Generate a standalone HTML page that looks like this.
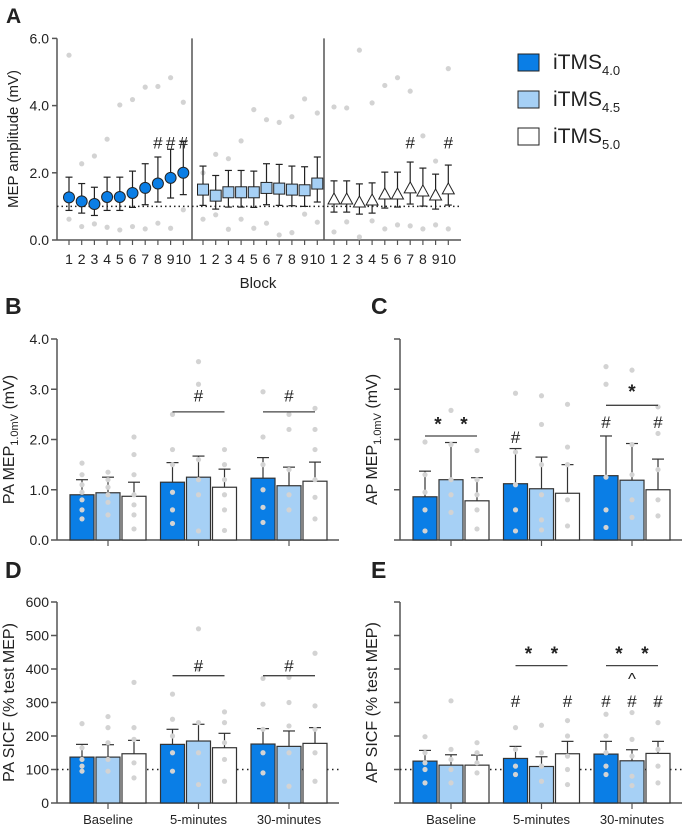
<!DOCTYPE html>
<html><head><meta charset="utf-8"><style>
body{margin:0;background:#fff;font-family:"Liberation Sans",Arial,sans-serif}
svg{display:block}
text{font-family:"Liberation Sans",Arial,sans-serif;fill:#222}
</style></head><body>
<svg id="fig" width="685" height="828" viewBox="0 0 685 828">
<text x="6" y="23" font-size="21" font-weight="bold">A</text>
<text x="5" y="314" font-size="23" font-weight="bold">B</text>
<text x="371" y="314" font-size="23" font-weight="bold">C</text>
<text x="5" y="578" font-size="23" font-weight="bold">D</text>
<text x="371" y="578" font-size="23" font-weight="bold">E</text>
<g>
<rect x="518" y="54" width="21" height="17" fill="#0a7ee6" stroke="#222"/>
<text x="553" y="69" font-size="21">iTMS<tspan font-size="13" dy="6">4.0</tspan></text>
<rect x="518" y="91" width="21" height="17" fill="#a6d0f5" stroke="#222"/>
<text x="553" y="106" font-size="21">iTMS<tspan font-size="13" dy="6">4.5</tspan></text>
<rect x="518" y="128" width="21" height="17" fill="#fff" stroke="#222"/>
<text x="553" y="143" font-size="21">iTMS<tspan font-size="13" dy="6">5.0</tspan></text>
</g>
</svg>
<script>
// ===== Panel A data =====
const blocks=["1","2","3","4","5","6","7","8","9","10"];
const aTicks=[0,2,4,6];
const aMean1=[1.27,1.15,1.07,1.28,1.28,1.40,1.55,1.68,1.85,2.0];
const aUp1=[1.87,1.68,1.57,1.87,1.87,2.05,2.27,2.47,2.7,2.93];
const aLo1=[0.88,0.8,0.73,0.88,0.88,0.97,1.05,1.13,1.25,1.35];
const aDotHi1=[5.5,2.27,2.5,3.0,4.02,4.18,4.55,4.57,4.83,4.1];
const aDotLo1=[0.62,0.4,0.48,0.38,0.3,0.4,0.33,0.5,0.35,0.9];
const aMean2=[1.5,1.32,1.42,1.42,1.42,1.55,1.53,1.5,1.48,1.68];
const aUp2=[2.2,1.92,2.07,2.07,2.05,2.27,2.25,2.2,2.18,2.47];
const aLo2=[1.03,0.92,0.98,0.98,0.97,1.05,1.03,1.02,1.0,1.13];
const aDotHi2=[2.0,2.55,2.42,2.95,3.88,3.58,3.5,3.67,4.2,3.78];
const aDotLo2=[0.62,0.75,0.32,0.62,0.35,0.5,0.15,0.22,0.77,0.53];
const aMean3=[1.22,1.22,1.13,1.19,1.37,1.37,1.55,1.46,1.34,1.52];
const aUp3=[1.76,1.76,1.67,1.7,2.02,2.02,2.32,2.14,1.96,2.23];
const aLo3=[0.83,0.83,0.77,0.8,0.95,0.98,1.07,1.01,0.92,1.04];
const aDotHi3=[3.96,3.93,5.65,4.08,4.6,4.83,4.43,3.1,2.35,5.1];
const aDotLo3=[0.24,0.54,0.09,0.57,0.33,0.45,0.42,0.33,0.45,0.33];
// ===== Panels B-E data =====
const cats=["Baseline","5-minutes","30-minutes"];
const bMean=[0.9,0.94,0.87,1.15,1.25,1.05,1.23,1.08,1.17];
const bErr=[1.2,1.25,1.15,1.54,1.67,1.41,1.64,1.45,1.55];
const cMean=[0.86,1.2,0.78,1.12,1.02,0.93,1.28,1.19,1.0];
const cErr=[1.37,1.94,1.24,1.82,1.65,1.5,2.07,1.92,1.61];
const dMean=[137,137,147,175,185,165,176,169,178];
const dErr=[175,174,187,220,235,208,222,215,225];
const eMean=[125,113,113,133,109,147,146,126,148];
const eErr=[157,144,143,169,138,184,184,159,184];
const bDots=[[1.53,1.3,1.1,0.95,0.8,0.6,0.42],[1.35,1.2,1.05,0.9,0.75,0.5],[2.05,1.7,1.3,0.9,0.7,0.5,0.22],[2.5,1.8,1.5,0.95,0.6,0.33],[3.55,3.1,1.6,1.2,0.9,0.18],[1.8,1.5,1.2,0.9,0.6,0.19],[2.95,2.05,1.5,1.0,0.65,0.35],[2.5,2.2,1.4,0.9,0.6],[2.62,2.2,1.8,1.2,0.85,0.42]];
const cDots=[[1.95,1.3,0.95,0.6,0.18],[2.58,1.9,1.2,0.9,0.55],[1.78,1.2,0.9,0.6,0.22],[2.92,1.75,1.1,0.6,0.18],[2.87,2.3,1.5,0.9,0.4,0.2],[2.7,1.85,1.5,0.8,0.28],[3.45,3.1,1.25,0.6,0.25],[3.38,1.9,1.3,0.8,0.45],[2.65,2.12,1.4,0.8,0.48]];
const dDots=[[237,165,130,110,95],[258,225,180,130,95],[360,225,190,120,75],[325,250,200,150,95],[520,400,240,150,55],[272,240,180,130,65],[372,295,220,150,90],[375,300,230,150,50],[447,290,220,150,65]];
const eDots=[[198,150,120,100,60],[305,160,130,100,60],[180,150,120,90],[225,160,110,85],[232,150,110,65],[246,200,140,100,55],[265,200,150,110,85],[270,190,140,80,52],[293,240,160,110,60]];

const NS="http://www.w3.org/2000/svg";
const svg=document.getElementById('fig');
function el(tag,attrs,parent,txt){const e=document.createElementNS(NS,tag);for(const k in attrs)e.setAttribute(k,attrs[k]);if(txt!==undefined)e.textContent=txt;(parent||svg).appendChild(e);return e;}
const AX="#555", GR="#d3d3d3";

// ---------- Panel A ----------
const gA=el('g',{});


const ay=v=>240-v*33.6;
const groupX0=[69,203,334], step=12.7;
const ax=(g,i)=>groupX0[g]+i*step;
el('line',{x1:57,y1:240,x2:57,y2:ay(6),stroke:AX,'stroke-width':1.5},gA);
el('line',{x1:57,y1:240,x2:461,y2:240,stroke:AX,'stroke-width':1.5},gA);
el('line',{x1:192,y1:240,x2:192,y2:ay(6),stroke:AX,'stroke-width':1.5},gA);
el('line',{x1:324,y1:240,x2:324,y2:ay(6),stroke:AX,'stroke-width':1.5},gA);
el('line',{x1:57,y1:ay(1),x2:460,y2:ay(1),stroke:'#222','stroke-width':1.5,'stroke-dasharray':'1.5,3'},gA);
aTicks.forEach(t=>{
 el('line',{x1:52,y1:ay(t),x2:57,y2:ay(t),stroke:AX,'stroke-width':1.5},gA);
 const tl=el('text',{x:49,y:ay(t)+5,'font-size':14,'text-anchor':'end'},gA,t.toFixed(1));
 
 
});
const ayt=el('text',{x:0,y:0,'font-size':15,'text-anchor':'middle',transform:'translate(18,139) rotate(-90)'},gA,'MEP amplitude (mV)');


const axt=el('text',{x:258,y:288,'font-size':15,'text-anchor':'middle'},gA,'Block');


const A=[[aMean1,aUp1,aLo1,aDotHi1,aDotLo1],[aMean2,aUp2,aLo2,aDotHi2,aDotLo2],[aMean3,aUp3,aLo3,aDotHi3,aDotLo3]];
A.forEach((s,g)=>{
 blocks.forEach((b,i)=>{
  const x=ax(g,i);
  el('line',{x1:x,y1:240,x2:x,y2:245,stroke:AX,'stroke-width':1.2},gA);
  const bl=el('text',{x:x,y:264,'font-size':14,'text-anchor':'middle'},gA,b);
  
  
  [s[3][i],s[4][i]].forEach(v=>{const d=el('circle',{cx:x,cy:ay(v),r:2.6,fill:GR},gA);
   
   });
  el('line',{x1:x,y1:ay(s[1][i]),x2:x,y2:ay(s[2][i]),stroke:'#222','stroke-width':1.2},gA);
  el('line',{x1:x-3.5,y1:ay(s[1][i]),x2:x+3.5,y2:ay(s[1][i]),stroke:'#222','stroke-width':1.2},gA);
  el('line',{x1:x-3.5,y1:ay(s[2][i]),x2:x+3.5,y2:ay(s[2][i]),stroke:'#222','stroke-width':1.2},gA);
  const y=ay(s[0][i]); let m;
  if(g===0) m=el('circle',{cx:x,cy:y,r:5.5,fill:'#0a7ee6',stroke:'#222','stroke-width':1},gA);
  else if(g===1) m=el('rect',{x:x-5.5,y:y-5.5,width:11,height:11,fill:'#a6d0f5',stroke:'#222','stroke-width':1},gA);
  else m=el('path',{d:`M${x},${y-6}L${x+6},${y+5}L${x-6},${y+5}Z`,fill:'#fff',stroke:'#222','stroke-width':1},gA);
  
  
 });
});
[[0,7],[0,8],[0,9],[2,6],[2,9]].forEach(([g,i])=>{
 const h=el('text',{x:ax(g,i),y:ay(2.9)+6,'font-size':17,'text-anchor':'middle'},gA,'#');
 
 
});

// ---------- Bar panels ----------
function barPanel(name,x0,yTop,yBot,max,ticks,showTickLabels,mean,err,dots,title,sub,titleTail,titleX,dotted,xlabels,ann){
 const g=el('g',{});
 
 
 const ys=v=>yBot-(v/max)*(yBot-yTop);
 const x1=x0+282;
 const centers=[0,1,2].map(k=>x0+51+90.5*k);
 el('line',{x1:x0,y1:yBot,x2:x0,y2:yTop,stroke:AX,'stroke-width':1.5},g);
 el('line',{x1:x0,y1:yBot,x2:x1,y2:yBot,stroke:AX,'stroke-width':1.5},g);
 ticks.forEach(t=>{
  el('line',{x1:x0-6,y1:ys(t),x2:x0,y2:ys(t),stroke:AX,'stroke-width':1.5},g);
  if(showTickLabels){const tl=el('text',{x:x0-8,y:ys(t)+5,'font-size':14,'text-anchor':'end'},g,max<10?t.toFixed(1):String(t));
   
   }
 });
 const tt=el('text',{x:0,y:0,'font-size':16,'text-anchor':'middle',transform:`translate(${titleX},${(yTop+yBot)/2}) rotate(-90)`},g);
 
 
 tt.appendChild(document.createTextNode(title));
 if(sub){el('tspan',{'font-size':11,dy:4},tt,sub);el('tspan',{dy:-4},tt,titleTail);}
 const fills=['#0a7ee6','#a6d0f5','#fff'];
 if(dotted) el('line',{x1:x0,y1:ys(100),x2:x1,y2:ys(100),stroke:'#222','stroke-width':1.5,'stroke-dasharray':'1.5,3.5'},g);
 const bw=24;
 const bx=[];
 mean.forEach((m,i)=>{
  const c=centers[Math.floor(i/3)]+((i%3)-1)*26;
  bx.push(c);
  const r=el('rect',{x:c-bw/2,y:ys(m),width:bw,height:yBot-ys(m),fill:fills[i%3],stroke:'#333','stroke-width':1.2},g);
  
  
  el('line',{x1:c,y1:ys(m),x2:c,y2:ys(err[i]),stroke:'#333','stroke-width':1.2},g);
  el('line',{x1:c-6,y1:ys(err[i]),x2:c+6,y2:ys(err[i]),stroke:'#333','stroke-width':1.2},g);
  dots[i].forEach(v=>{const d=el('circle',{cx:c,cy:ys(v),r:2.6,fill:GR},g);
   
   });
 });
 centers.forEach((c,k)=>{
  el('line',{x1:c,y1:yBot,x2:c,y2:yBot+6,stroke:AX,'stroke-width':1.2},g);
  if(xlabels){const l=el('text',{x:c,y:yBot+21,'font-size':13,'text-anchor':'middle'},g,cats[k]);
   
   }
 });
 ann.forEach(a=>{
  if(a.t==='line'){el('line',{x1:bx[a.a],y1:ys(a.v),x2:bx[a.b],y2:ys(a.v),stroke:'#444','stroke-width':1.3},g);}
  else{const t=el('text',{x:a.i!==undefined?bx[a.i]:(bx[a.a]+bx[a.b])/2,y:ys(a.v)+6,'font-size':a.t==='*'?19:17,'font-weight':a.t==='*'?'bold':'normal','text-anchor':'middle'},g,a.t);
   
   }
 });
}
barPanel('panel-b-chart',57,339,540,4,[0,1,2,3,4],true,bMean,bErr,bDots,'PA MEP','1.0mV',' (mV)',14,false,false,
 [{t:'line',a:3,b:5,v:2.55},{t:'#',a:3,b:5,v:2.88},{t:'line',a:6,b:8,v:2.55},{t:'#',a:6,b:8,v:2.88}]);
barPanel('panel-c-chart',400,339,540,4,[0,1,2,3,4],false,cMean,cErr,cDots,'AP MEP','1.0mV',' (mV)',377,false,false,
 [{t:'line',a:0,b:1,v:2.07},{t:'line',a:1,b:2,v:2.07},{t:'*',a:0,b:1,v:2.3},{t:'*',a:1,b:2,v:2.3},{t:'#',i:3,v:2.05},{t:'#',i:6,v:2.35},{t:'#',i:8,v:2.35},{t:'line',a:6,b:8,v:2.68},{t:'*',a:6,b:8,v:2.95}]);
barPanel('panel-d-chart',57,602,803,600,[0,100,200,300,400,500,600],true,dMean,dErr,dDots,'PA SICF (% test MEP)',null,null,14,true,true,
 [{t:'line',a:3,b:5,v:380},{t:'#',a:3,b:5,v:410},{t:'line',a:6,b:8,v:380},{t:'#',a:6,b:8,v:410}]);
barPanel('panel-e-chart',400,602,803,600,[0,100,200,300,400,500,600],false,eMean,eErr,eDots,'AP SICF (% test MEP)',null,null,377,true,true,
 [{t:'line',a:3,b:4,v:410},{t:'line',a:4,b:5,v:410},{t:'*',a:3,b:4,v:445},{t:'*',a:4,b:5,v:445},{t:'#',i:3,v:305},{t:'#',i:5,v:305},{t:'#',i:6,v:305},{t:'#',i:7,v:305},{t:'#',i:8,v:305},{t:'line',a:6,b:7,v:410},{t:'line',a:7,b:8,v:410},{t:'*',a:6,b:7,v:445},{t:'*',a:7,b:8,v:445},{t:'^',i:7,v:372}]);
</script>
</body></html>
